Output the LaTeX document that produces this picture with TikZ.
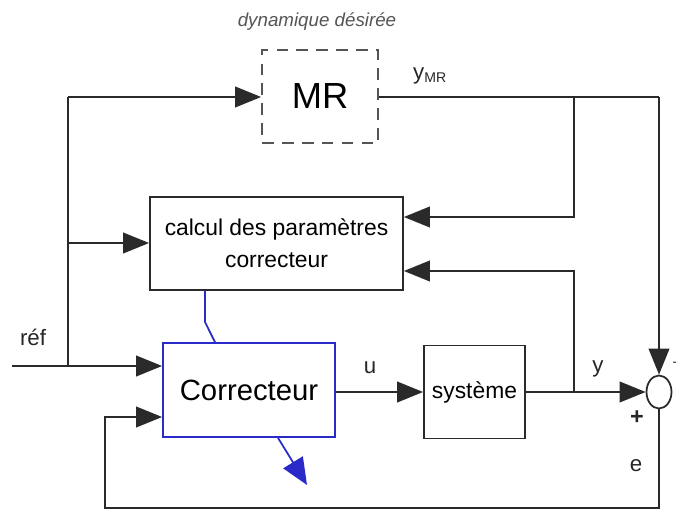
\documentclass[tikz,border=0pt]{standalone}
\usepackage{fontspec}
\setmainfont{Liberation Sans}
\usetikzlibrary{arrows.meta,shapes.geometric}
\definecolor{linegray}{HTML}{2A2A2A}
\definecolor{dashgray}{HTML}{555555}
\definecolor{corrblue}{HTML}{2A2AC8}
\tikzset{
  block/.style={draw=linegray,line width=1.5pt,inner sep=0pt},
  sig/.style={draw=linegray,line width=1.5pt},
  tip/.style={-{Triangle[length=0.78cm,width=0.62cm]}},
  lbl/.style={font=\fontsize{19}{22}\selectfont,text=black!85}
}
\begin{document}
\begin{tikzpicture}[x=0.03cm,y=-0.03cm]
    \useasboundingbox (0,0) rectangle (676,514);
    % blocs
    \node[block,draw=dashgray,dashed,dash pattern=on 10pt off 7pt,minimum width=3.48cm,minimum height=2.79cm,font=\fontsize{31}{34}\selectfont] (mr) at (320,96.5) {MR};
    \node[text=dashgray,font=\itshape\fontsize{16}{19}\selectfont] (dyn) at (317,22) {dynamique désirée};
    \node[block,minimum width=7.59cm,minimum height=2.79cm,align=center,font=\fontsize{19.5}{27}\selectfont] (calc) at (276.5,243.5) {calcul des paramètres\\correcteur};
    \node[block,draw=corrblue,minimum width=5.16cm,minimum height=2.82cm,font=\fontsize{25}{28}\selectfont] (corr) at (249,390) {Correcteur};
    \node[block,minimum width=3.03cm,minimum height=2.79cm,font=\fontsize{19.5}{22}\selectfont] (sys) at (474.5,392) {système};
    \node[block,ellipse,minimum width=0.75cm,minimum height=0.99cm] (sum) at (659,392) {};
    % points de branchement
    \coordinate (refin) at (12,366);
    \coordinate (jref) at (68,366);
    \coordinate (jtop) at (68,97);
    \coordinate (jcalc) at (68,243);
    \coordinate (jmr) at (574,97);
    \coordinate (cmr) at (659,97);
    \coordinate (jy) at (574,392);
    \coordinate (bl) at (105,508);
    \coordinate (br) at (659,508);
    % liaisons
    \draw[sig,tip] (refin) -- (refin -| corr.west);
    \draw[sig] (jref) -- (jtop);
    \draw[sig,tip] (jtop) -- (jtop -| mr.west);
    \draw[sig,tip] (jcalc) -- (jcalc -| calc.west);
    \draw[sig] (mr.east |- cmr) -- (cmr);
    \draw[sig,tip] (cmr) -- (sum.north);
    \draw[sig,tip] (jmr) -- (574,217) -- (calc.east |- 0,217);
    \draw[sig,tip] (jy) -- (574,271) -- (calc.east |- 0,271);
    \draw[sig,tip] (corr.east |- sys.west) -- (sys.west);
    \draw[sig,tip] (sys.east) -- (sum.west);
    \draw[sig,tip] (sum.south) -- (br) -- (bl) -- (105,417) -- (corr.west |- 0,417);
    \draw[corrblue,line width=1.5pt] (calc.south -| 205,0) -- (205,322) -- (corr.north -| 215,0);
    \draw[corrblue,line width=1.5pt,-{Triangle[length=0.8cm,width=0.68cm]}] (corr.south -| 278,0) -- (307,485);
    % etiquettes
    \node[lbl] (lref) at (33,337) {réf};
    \node[lbl] (lu) at (370,368) {u};
    \node[lbl] (ly) at (598,369) {y};
    \node[lbl] (lymr) at (430,76) {y\textsubscript{\fontsize{12}{14}\selectfont MR}};
    \node[lbl,font=\bfseries\fontsize{20}{22}\selectfont] (lplus) at (637,418) {+};
    \node[lbl] (le) at (636,466) {e};
    \node[lbl,font=\fontsize{12}{14}\selectfont] (lminus) at (675,364) {-};
\end{tikzpicture}
\end{document}
